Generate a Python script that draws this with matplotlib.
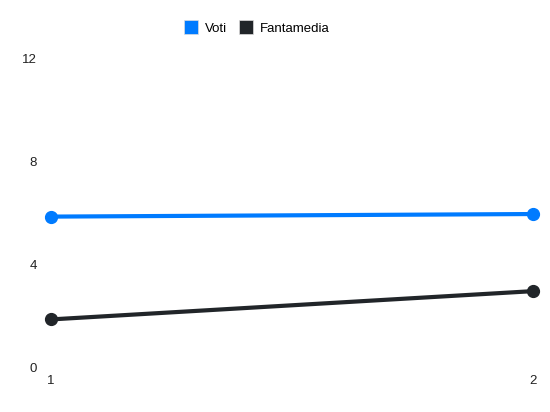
import matplotlib
matplotlib.use("Agg")
import matplotlib.pyplot as plt
from matplotlib.lines import Line2D

giornate = [1, 2]
voti = [5.85, 5.95]
fantamedia = [1.85, 2.95]
y_ticks = [0, 4, 8, 12]

plt.rcParams['font.family'] = ['Liberation Sans', 'DejaVu Sans']

fig = plt.figure(figsize=(5.5, 4.12), dpi=100)
ax = fig.add_axes([50.7/550, 45/412, (532.7-50.7)/550, (353.5-45)/412])

blue = '#007bff'
dark = '#212529'
ax.plot(giornate, voti, color=blue, lw=3, marker='o', ms=8.5, clip_on=False, solid_capstyle='round', zorder=3)
ax.plot(giornate, fantamedia, color=dark, lw=3, marker='o', ms=8.5, clip_on=False, solid_capstyle='round', zorder=3)

ax.set_xlim(1, 2)
ax.set_ylim(0, 12)
ax.set_xticks(giornate)
ax.set_xticklabels([str(g) for g in giornate])
ax.set_yticks(y_ticks)
ax.tick_params(axis='y', length=0, pad=10, labelsize=9.5, colors='#222222')
ax.tick_params(axis='x', length=0, pad=6, labelsize=9.5, colors='#222222')
for s in ax.spines.values():
    s.set_visible(False)

handles = [Line2D([], [], ls='none', marker='s', ms=9.5, mfc=blue, mec='#dddddd', mew=0.5, label='Voti'),
           Line2D([], [], ls='none', marker='s', ms=9.5, mfc=dark, mec='#dddddd', mew=0.5, label='Fantamedia')]
fig.legend(handles=handles, loc='center', bbox_to_anchor=(257/550, 1-28.5/412), ncol=2, frameon=False,
           fontsize=9.5, handletextpad=0.6, columnspacing=0.9, handlelength=1.0)

fig.savefig('out.png', dpi=100)
